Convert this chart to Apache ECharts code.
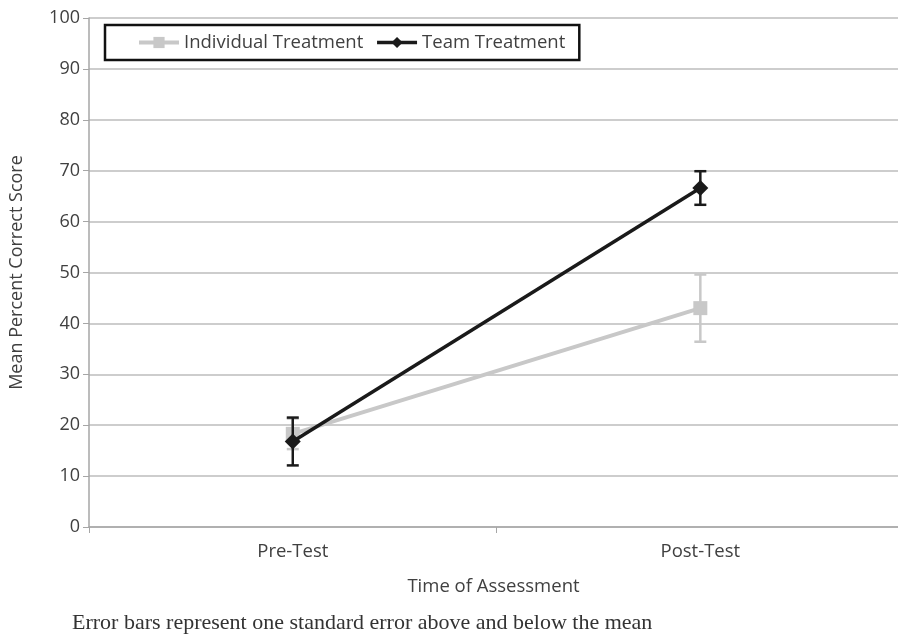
<!DOCTYPE html>
<html><head><meta charset="utf-8">
<script src="https://cdn.jsdelivr.net/npm/echarts@6/dist/echarts.min.js"></script>
<style>html,body{margin:0;padding:0;background:#fff}#c{width:898px;height:639px}</style>
</head><body><div id="c"></div>
<script>
const categories = ['Pre-Test', 'Post-Test'];
const individualMean = [18.3, 43.0];
const individualSE = [3.0, 6.6];
const teamMean = [16.8, 66.6];
const teamSE = [4.7, 3.3];
const yTicks = [0, 10, 20, 30, 40, 50, 60, 70, 80, 90, 100];

const FONT = '"Open Sans", sans-serif';
const TXT = '#404040';
const GREY = '#c8c8c8';
const BLACK = '#1a1a1a';

function pts(mean) { return mean.map((m, i) => [i, m]); }
function errData(mean, se) {
  return mean.map((m, i) => [i, m - se[i], m + se[i]]);
}
function errRender(color, width, cap) {
  return function (params, api) {
    const lo = api.coord([api.value(0), api.value(1)]);
    const hi = api.coord([api.value(0), api.value(2)]);
    const st = { stroke: color, lineWidth: width };
    return {
      type: 'group',
      children: [
        { type: 'line', shape: { x1: lo[0], y1: lo[1], x2: hi[0], y2: hi[1] }, style: st },
        { type: 'line', shape: { x1: hi[0] - cap, y1: hi[1], x2: hi[0] + cap, y2: hi[1] }, style: st },
        { type: 'line', shape: { x1: lo[0] - cap, y1: lo[1], x2: lo[0] + cap, y2: lo[1] }, style: st }
      ]
    };
  };
}

const chart = echarts.init(document.getElementById('c'));
chart.setOption({
  animation: false,
  backgroundColor: '#fff',
  grid: { left: 88, right: 0, top: 18, height: 509, containLabel: false },
  legend: {
    left: 105, top: 25,
    borderColor: '#111', borderWidth: 2.5, borderRadius: 0,
    padding: [8, 14, 8, 32],
    itemWidth: 40, itemHeight: 14, itemGap: 12,
    textStyle: { fontFamily: FONT, fontSize: 18.5, color: TXT },
    data: [
      { name: 'Individual Treatment', lineStyle: { width: 4, color: GREY } },
      { name: 'Team Treatment', lineStyle: { width: 3.5, color: BLACK } }
    ]
  },
  xAxis: {
    type: 'value', min: -0.5, max: 1.485, interval: 0.5,
    splitLine: { show: false },
    axisLine: { onZero: false, lineStyle: { color: '#a6a6a6', width: 1.5 } },
    axisTick: { show: true, length: 6, customValues: [-0.5, 0.5], lineStyle: { color: '#a6a6a6' } },
    axisLabel: { fontFamily: FONT, fontSize: 18.5, color: TXT, margin: 15,
      customValues: [0, 1], showMinLabel: true, showMaxLabel: true,
      formatter: v => categories[Math.round(v)] || '' },
    name: 'Time of Assessment', nameLocation: 'middle', nameGap: 50,
    nameTextStyle: { fontFamily: FONT, fontSize: 18.5, color: TXT }
  },
  yAxis: {
    type: 'value', min: 0, max: 100, interval: 10,
    axisLine: { show: true, onZero: false, lineStyle: { color: '#a6a6a6', width: 1.5 } },
    axisTick: { show: true, length: 6, lineStyle: { color: '#a6a6a6' } },
    splitLine: { lineStyle: { color: '#bdbdbd', width: 1.5 } },
    axisLabel: { fontFamily: FONT, fontSize: 18, color: TXT, margin: 9,
      formatter: v => yTicks.includes(v) ? String(v) : '' },
    name: 'Mean Percent Correct Score', nameLocation: 'middle', nameGap: 63,
    nameTextStyle: { fontFamily: FONT, fontSize: 18, color: TXT }
  },
  series: [
    {
      name: 'Individual Treatment', type: 'line', data: pts(individualMean),
      symbol: 'rect', symbolSize: 14, z: 2,
      lineStyle: { color: GREY, width: 4 }, itemStyle: { color: GREY }
    },
    {
      name: 'Individual Error', type: 'custom', data: errData(individualMean, individualSE),
      renderItem: errRender(GREY, 2.5, 6), z: 1, silent: true
    },
    {
      name: 'Team Treatment', type: 'line', data: pts(teamMean),
      symbol: 'diamond', symbolSize: 16, z: 4,
      lineStyle: { color: BLACK, width: 3.5 }, itemStyle: { color: BLACK }
    },
    {
      name: 'Team Error', type: 'custom', data: errData(teamMean, teamSE),
      renderItem: errRender(BLACK, 2.5, 6), z: 3, silent: true
    }
  ],
  graphic: [{
    type: 'text', left: 72, top: 612,
    style: { text: 'Error bars represent one standard error above and below the mean',
      font: '22px "Liberation Serif", serif', fill: '#333' }
  }]
});
</script></body></html>
